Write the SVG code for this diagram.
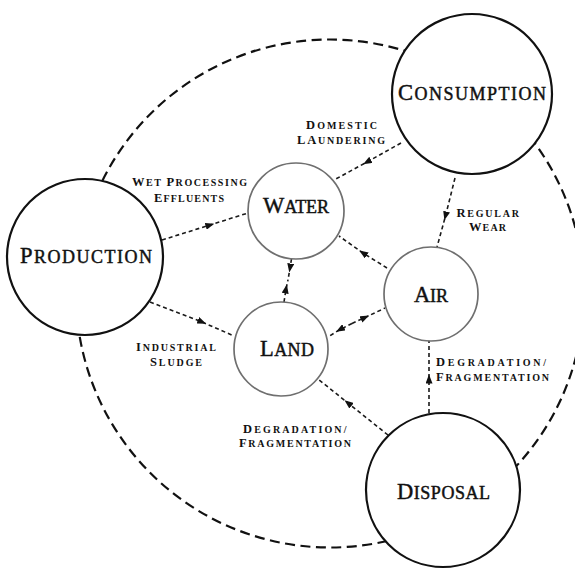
<svg xmlns="http://www.w3.org/2000/svg" width="575" height="570" viewBox="0 0 575 570">
<defs>
<style>
.outer{fill:none;stroke:#111;stroke-width:2.2;stroke-dasharray:10 5.5}
.big{fill:#fff;stroke:#111;stroke-width:2.2}
.small{fill:#fff;stroke:#6f6f6f;stroke-width:1.7}
.conn{fill:none;stroke:#1a1a1a;stroke-width:1.6;stroke-dasharray:4 3}
.node-label{font-family:"Liberation Serif","Times New Roman",serif;font-size:18px;fill:#111;stroke:#111;stroke-width:0.45}
.node-label .cap{font-size:22.5px}
.edge-label{font-family:"Liberation Serif","Times New Roman",serif;font-size:10px;font-weight:bold;fill:#111}
.edge-label .cap{font-size:12.5px}
</style>
<marker id="arr" markerUnits="userSpaceOnUse" markerWidth="9" markerHeight="7" viewBox="0 0 9 7" refX="4.5" refY="3.5" orient="auto">
<path d="M0,0 L9,3.5 L0,7 z" fill="#111"/>
</marker>
</defs>
<rect width="575" height="570" fill="#fff"/>
<circle class="outer" cx="330" cy="293.5" r="254"/>
<g id="connectors">
<path class="conn" d="M162,240 L210,225 L248,213" marker-mid="url(#arr)"/>
<path class="conn" d="M401,143 L367,162 L334,180" marker-mid="url(#arr)"/>
<path class="conn" d="M455,178 L445.5,216 L437,247" marker-mid="url(#arr)"/>
<path class="conn" d="M387,268 L363,253 L339,236" marker-mid="url(#arr)"/>
<path class="conn" d="M291.5,259 L290,268 L288,280" marker-mid="url(#arr)"/>
<path class="conn" d="M284,302 L286,289 L288,280" marker-mid="url(#arr)"/>
<path class="conn" d="M352,323.5 L365,317.5 L385,308" marker-mid="url(#arr)"/>
<path class="conn" d="M352,323.5 L340,329.5 L328,337" marker-mid="url(#arr)"/>
<path class="conn" d="M150,302 L202,322 L234,336" marker-mid="url(#arr)"/>
<path class="conn" d="M388,435 L348,403 L318,379" marker-mid="url(#arr)"/>
<path class="conn" d="M429,413 L429,379 L429,341" marker-mid="url(#arr)"/>
</g>
<g id="consumption">
<circle class="big" cx="472" cy="94" r="80"/>
<text class="node-label" x="398" y="100" textLength="148" lengthAdjust="spacing"><tspan class="cap">C</tspan>ONSUMPTION</text>
</g>
<g id="production">
<circle class="big" cx="85" cy="257" r="78"/>
<text class="node-label" x="20" y="263" textLength="132" lengthAdjust="spacing"><tspan class="cap">P</tspan>RODUCTION</text>
</g>
<g id="disposal">
<circle class="big" cx="443" cy="490" r="77"/>
<text class="node-label" x="397" y="499" textLength="93" lengthAdjust="spacing"><tspan class="cap">D</tspan>ISPOSAL</text>
</g>
<g id="water">
<circle class="small" cx="296" cy="211" r="48"/>
<text class="node-label" x="263" y="213" textLength="66" lengthAdjust="spacing"><tspan class="cap">W</tspan>ATER</text>
</g>
<g id="air">
<circle class="small" cx="431" cy="294" r="47"/>
<text class="node-label" x="414" y="302" textLength="34" lengthAdjust="spacing"><tspan class="cap">A</tspan>IR</text>
</g>
<g id="land">
<circle class="small" cx="281" cy="349" r="47"/>
<text class="node-label" x="260" y="356" textLength="54" lengthAdjust="spacing"><tspan class="cap">L</tspan>AND</text>
</g>
<g id="edge-labels">
<text class="edge-label" x="132" y="186" textLength="115" lengthAdjust="spacing"><tspan class="cap">W</tspan>ET <tspan class="cap">P</tspan>ROCESSING</text>
<text class="edge-label" x="154" y="201.5" textLength="70" lengthAdjust="spacing"><tspan class="cap">E</tspan>FFLUENTS</text>
<text class="edge-label" x="306" y="129" textLength="71" lengthAdjust="spacing"><tspan class="cap">D</tspan>OMESTIC</text>
<text class="edge-label" x="297" y="144" textLength="88" lengthAdjust="spacing"><tspan class="cap">LA</tspan>UNDERING</text>
<text class="edge-label" x="456.5" y="216.5" textLength="62.5" lengthAdjust="spacing"><tspan class="cap">R</tspan>EGULAR</text>
<text class="edge-label" x="469" y="230.5" textLength="37" lengthAdjust="spacing"><tspan class="cap">W</tspan>EAR</text>
<text class="edge-label" x="136" y="351" textLength="80" lengthAdjust="spacing"><tspan class="cap">I</tspan>NDUSTRIAL</text>
<text class="edge-label" x="150" y="366" textLength="52" lengthAdjust="spacing"><tspan class="cap">S</tspan>LUDGE</text>
<text class="edge-label" x="436" y="366" textLength="110" lengthAdjust="spacing"><tspan class="cap">D</tspan>EGRADATION/</text>
<text class="edge-label" x="436" y="380.5" textLength="113" lengthAdjust="spacing"><tspan class="cap">F</tspan>RAGMENTATION</text>
<text class="edge-label" x="243" y="433" textLength="103.5" lengthAdjust="spacing"><tspan class="cap">D</tspan>EGRADATION/</text>
<text class="edge-label" x="239" y="447" textLength="112" lengthAdjust="spacing"><tspan class="cap">F</tspan>RAGMENTATION</text>
</g>
</svg>
